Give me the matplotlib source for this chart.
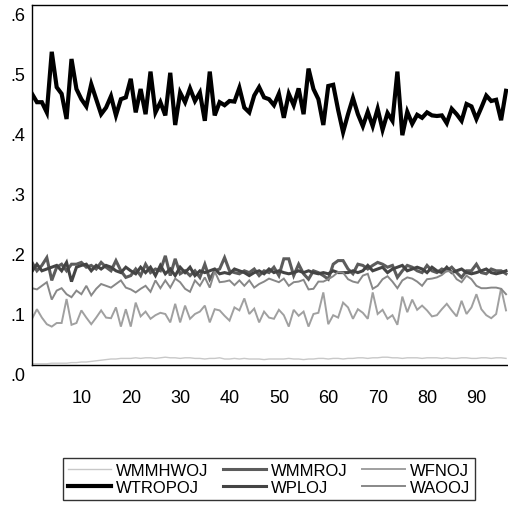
import numpy as np
import matplotlib.pyplot as plt
import matplotlib.transforms as mtransforms
from matplotlib.ticker import FuncFormatter, MultipleLocator

plt.rcParams["font.family"] = ["Liberation Sans", "DejaVu Sans"]

WMMHWOJ = [
    .002, .002, .002, .002, .003, .003, .003, .003, .004, .004,
    .005, .005, .006, .007, .008, .009, .010, .010, .011, .011,
    .011, .012, .011, .012, .012, .011, .012, .013, .012, .012,
    .011, .012, .012, .011, .011, .010, .011, .011, .012, .010,
    .010, .011, .010, .011, .010, .010, .010, .009, .010, .010,
    .010, .010, .011, .010, .010, .009, .010, .010, .011, .011,
    .010, .011, .011, .010, .011, .011, .012, .012, .011, .012,
    .012, .013, .013, .012, .012, .011, .012, .012, .012, .011,
    .012, .012, .012, .011, .012, .011, .011, .012, .012, .011,
    .011, .012, .012, .011, .012, .012, .011,
]
WTROPOJ = [
    .452, .438, .438, .421, .522, .463, .452, .410, .510, .460,
    .443, .431, .468, .443, .418, .429, .448, .416, .443, .446,
    .477, .421, .460, .418, .489, .421, .438, .416, .487, .400,
    .454, .438, .461, .440, .454, .407, .489, .416, .438, .433,
    .440, .439, .462, .429, .421, .449, .463, .446, .443, .433,
    .452, .412, .452, .433, .461, .418, .494, .460, .443, .400,
    .465, .467, .425, .388, .418, .445, .418, .398, .422, .398,
    .427, .392, .420, .407, .489, .383, .422, .402, .417, .412,
    .421, .416, .415, .416, .403, .427, .418, .407, .435, .431,
    .410, .429, .449, .440, .442, .408, .457,
]
WMMROJ = [
    .171, .157, .166, .179, .141, .163, .168, .157, .168, .168,
    .171, .163, .166, .160, .171, .163, .157, .174, .157, .146,
    .149, .160, .149, .168, .154, .160, .157, .182, .149, .177,
    .152, .157, .149, .157, .146, .168, .143, .157, .160, .179,
    .157, .154, .152, .157, .154, .160, .149, .157, .154, .163,
    .149, .177, .177, .149, .168, .152, .143, .157, .154, .149,
    .143, .168, .174, .174, .160, .152, .168, .166, .160, .166,
    .171, .168, .163, .166, .146, .157, .166, .163, .157, .154,
    .166, .157, .154, .160, .157, .163, .154, .146, .157, .157,
    .168, .154, .152, .160, .157, .157, .152,
]
WPLOJ = [
    .156, .168, .157, .160, .163, .166, .157, .171, .139, .163,
    .166, .168, .157, .166, .160, .166, .163, .157, .154, .163,
    .157, .152, .163, .154, .163, .149, .166, .152, .160, .149,
    .163, .154, .163, .149, .157, .154, .157, .160, .152, .154,
    .152, .160, .157, .154, .149, .154, .157, .152, .160, .154,
    .157, .154, .152, .154, .157, .154, .157, .154, .152, .154,
    .152, .157, .154, .154, .154, .157, .154, .157, .166, .157,
    .160, .163, .154, .160, .163, .166, .157, .160, .163, .160,
    .154, .163, .157, .154, .163, .154, .157, .160, .154, .152,
    .154, .157, .160, .154, .152, .154, .157,
]
WFNOJ = [
    .077, .093, .079, .068, .064, .070, .070, .110, .067, .070,
    .091, .079, .068, .079, .091, .079, .078, .096, .064, .093,
    .064, .104, .081, .089, .077, .083, .087, .085, .071, .102,
    .071, .099, .077, .085, .089, .099, .071, .093, .091, .082,
    .074, .096, .091, .111, .085, .094, .071, .089, .079, .077,
    .092, .083, .064, .092, .082, .089, .064, .085, .087, .121,
    .068, .083, .079, .104, .096, .077, .093, .087, .077, .121,
    .085, .092, .077, .083, .067, .114, .088, .109, .092, .099,
    .091, .081, .083, .093, .102, .091, .081, .107, .085, .096,
    .118, .093, .083, .078, .085, .128, .091,
]
WAOOJ = [
    .128, .126, .132, .138, .109, .124, .128, .118, .113, .124,
    .118, .132, .116, .127, .135, .132, .129, .135, .141, .129,
    .126, .121, .127, .132, .122, .141, .128, .141, .129, .144,
    .138, .127, .122, .141, .132, .146, .129, .156, .138, .139,
    .141, .133, .141, .132, .141, .129, .135, .139, .144, .141,
    .138, .144, .132, .138, .139, .142, .126, .127, .139, .139,
    .143, .148, .155, .154, .143, .139, .137, .149, .152, .127,
    .132, .143, .148, .139, .128, .141, .146, .144, .139, .132,
    .143, .144, .146, .150, .157, .155, .143, .138, .149, .143,
    .132, .128, .128, .129, .129, .127, .118,
]

series = [
    ("WMMHWOJ", WMMHWOJ, "#c8c8c8", 1.0),
    ("WTROPOJ", WTROPOJ, "#000000", 3.0),
    ("WMMROJ", WMMROJ, "#5c5c5c", 2.2),
    ("WPLOJ", WPLOJ, "#444444", 2.2),
    ("WFNOJ", WFNOJ, "#a0a0a0", 1.4),
    ("WAOOJ", WAOOJ, "#888888", 1.4),
]

fig = plt.figure(figsize=(5.08, 5.06), dpi=100)
ax = fig.add_axes([32 / 508, 140 / 506, 476 / 508, 360 / 506])

handles = []
for name, vals, col, lw in series:
    x = np.arange(len(vals))
    h, = ax.plot(x, vals, color=col, lw=lw, label=name,
                 solid_joinstyle="miter")
    handles.append(h)

ax.set_xlim(0, 96.4)
ax.set_ylim(0, 0.6)
ax.set_xticks(range(10, 100, 10))
ax.yaxis.set_major_locator(MultipleLocator(0.1))
ax.yaxis.set_major_formatter(FuncFormatter(lambda v, p: f"{v:.1f}".lstrip("0")))
ax.tick_params(length=0, labelsize=13)
ax.tick_params(axis="x", pad=17)
ax.tick_params(axis="y", pad=5)
for sp in ("left", "top", "bottom"):
    ax.spines[sp].set_linewidth(1.0)
ax.spines["right"].set_visible(False)

# labels sit a little below their values, as in the source
shift = mtransforms.ScaledTranslation(0, -0.09, fig.dpi_scale_trans)
for lab in ax.get_yticklabels():
    lab.set_transform(lab.get_transform() + shift)

leg = fig.legend(handles, [s[0] for s in series], ncol=3, loc="center",
                 bbox_to_anchor=(269 / 508, 1 - 480 / 506),
                 frameon=True, fancybox=False, edgecolor="black",
                 fontsize=12, handlelength=2.6, handletextpad=0.25,
                 columnspacing=0.9, borderpad=0.3, labelspacing=0.1,
                 borderaxespad=0)
leg.get_frame().set_linewidth(1.0)

fig.savefig("out.png", dpi=100)
